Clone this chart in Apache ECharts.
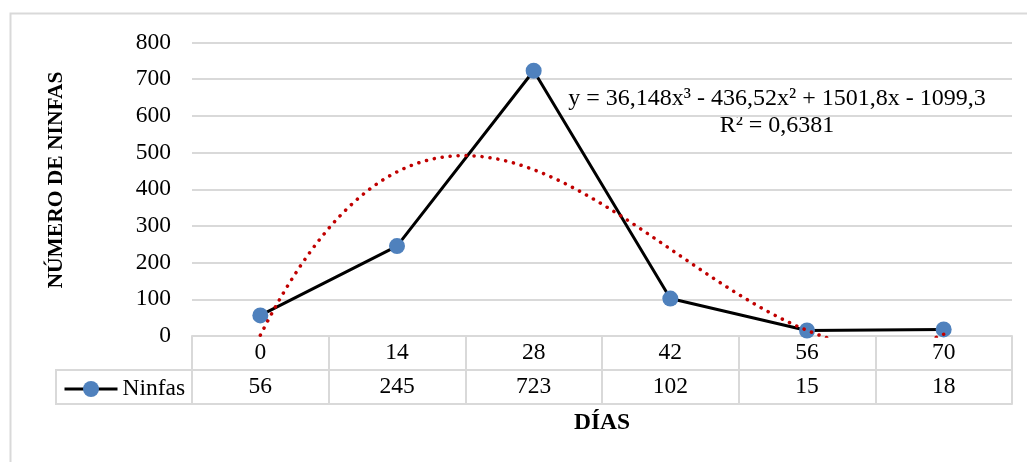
<!DOCTYPE html>
<html>
<head>
<meta charset="utf-8">
<script src="https://cdn.jsdelivr.net/npm/echarts@6/dist/echarts.min.js"></script>
<style>
  html, body { margin: 0; padding: 0; background: #ffffff; }
  #chart { width: 1027px; height: 462px; }
</style>
</head>
<body>
<div id="chart"></div>
<script>
// Days since start and nymph counts
const dias = ['0', '14', '28', '42', '56', '70'];
const ninfas = [56, 245, 723, 102, 15, 18];
const yTicks = [0, 100, 200, 300, 400, 500, 600, 700, 800];

// Cubic trendline y = a*x^3 + b*x^2 + c*x + d (x = 1..6, point index)
const trendCoef = [36.148, -436.52, 1501.8, -1099.3];
const trendLabel = ['y = 36,148x³ - 436,52x² + 1501,8x - 1099,3', 'R² = 0,6381'];

const FONT = "'Liberation Serif', 'Times New Roman', serif";
const GRID_COLOR = '#d9d9d9';

function trendAt(x) {
  const [a, b, c, d] = trendCoef;
  return a * x * x * x + b * x * x + c * x + d;
}
const trendData = [];
for (let i = 0; i <= 100; i++) {
  const x = 1 + i * 0.05;
  trendData.push([x, trendAt(x)]);
}

const chart = echarts.init(document.getElementById('chart'), null, { renderer: 'canvas' });

const option = {
  backgroundColor: '#ffffff',
  animation: false,
  textStyle: { fontFamily: FONT },
  grid: { left: 192, right: 15, top: 42.5, bottom: 126, containLabel: false },
  legend: {
    data: ['Ninfas'],
    left: 63,
    top: 377,
    padding: 0,
    itemWidth: 53,
    itemHeight: 20,
    lineStyle: { width: 3 },
    textStyle: { fontFamily: FONT, fontSize: 23.5, color: '#000000' }
  },
  xAxis: [
    {
      type: 'category',
      data: dias,
      boundaryGap: true,
      position: 'bottom',
      axisLine: { show: true, lineStyle: { color: GRID_COLOR, width: 2 } },
      axisTick: { show: true, alignWithLabel: false, interval: 0, length: 68, lineStyle: { color: GRID_COLOR, width: 2 } },
      axisLabel: { margin: 17, verticalAlign: 'middle', fontFamily: FONT, fontSize: 23.5, color: '#000000', interval: 0 },
      splitLine: { show: false }
    },
    {
      type: 'category',
      data: ninfas.map(String),
      boundaryGap: true,
      position: 'bottom',
      offset: 34,
      axisLine: { show: true, lineStyle: { color: GRID_COLOR, width: 2 } },
      axisTick: { show: false },
      axisLabel: { margin: 17, verticalAlign: 'middle', fontFamily: FONT, fontSize: 23.5, color: '#000000', interval: 0 },
      splitLine: { show: false }
    },
    {
      type: 'category',
      data: dias,
      boundaryGap: true,
      position: 'bottom',
      offset: 68,
      axisLine: { show: true, lineStyle: { color: GRID_COLOR, width: 2 } },
      axisTick: { show: false },
      axisLabel: { show: false },
      splitLine: { show: false }
    },
    {
      type: 'value',
      min: 0.5,
      max: 6.5,
      show: false
    }
  ],
  yAxis: {
    type: 'value',
    min: yTicks[0],
    max: yTicks[yTicks.length - 1],
    interval: 100,
    axisLine: { show: false },
    axisTick: { show: false },
    axisLabel: { margin: 21, fontFamily: FONT, fontSize: 23.5, color: '#000000' },
    splitLine: { show: true, lineStyle: { color: GRID_COLOR, width: 2 } }
  },
  graphic: [
    {
      type: 'rect',
      silent: true,
      shape: { x: 10.5, y: 13.5, width: 1100, height: 600 },
      style: { fill: 'none', stroke: GRID_COLOR, lineWidth: 2 },
      z: -10
    },
    {
      type: 'rect',
      silent: true,
      shape: { x: 56, y: 370, width: 136, height: 34 },
      style: { fill: 'none', stroke: GRID_COLOR, lineWidth: 2 },
      z: -5
    },
    {
      type: 'text',
      silent: true,
      x: 56,
      y: 180,
      rotation: Math.PI / 2,
      style: {
        text: 'NÚMERO DE NINFAS',
        fontFamily: FONT,
        fontSize: 21.5,
        fontWeight: 'bold',
        fill: '#000000',
        align: 'center',
        verticalAlign: 'middle'
      }
    },
    {
      type: 'text',
      silent: true,
      x: 602,
      y: 423,
      style: {
        text: 'DÍAS',
        fontFamily: FONT,
        fontSize: 23.5,
        fontWeight: 'bold',
        fill: '#000000',
        align: 'center',
        verticalAlign: 'middle'
      }
    },
    {
      type: 'text',
      silent: true,
      x: 777,
      y: 99,
      style: {
        text: trendLabel[0],
        fontFamily: FONT,
        fontSize: 24,
        fill: '#000000',
        align: 'center',
        verticalAlign: 'middle'
      }
    },
    {
      type: 'text',
      silent: true,
      x: 777,
      y: 126,
      style: {
        text: trendLabel[1],
        fontFamily: FONT,
        fontSize: 24,
        fill: '#000000',
        align: 'center',
        verticalAlign: 'middle'
      }
    }
  ],
  series: [
    {
      name: 'Ninfas',
      type: 'line',
      xAxisIndex: 0,
      data: ninfas,
      symbol: 'circle',
      symbolSize: 16,
      lineStyle: { color: '#000000', width: 3 },
      itemStyle: { color: '#4f81bd', borderWidth: 0 },
      z: 3
    },
    {
      name: 'Tendencia',
      type: 'line',
      xAxisIndex: 3,
      data: trendData,
      showSymbol: false,
      symbol: 'none',
      clip: true,
      lineStyle: { color: '#c00000', width: 3.5, type: [0.1, 7.9], cap: 'round' },
      z: 4
    }
  ]
};

chart.setOption(option);
</script>
</body>
</html>
